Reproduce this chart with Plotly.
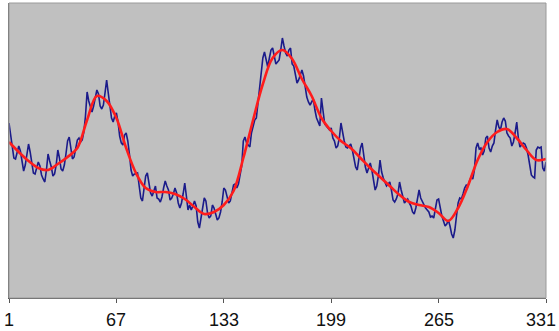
import plotly.graph_objects as go

# Monthly series (index 1..331) and its smoothed trend
month = list(range(1, 332))

raw = [
    175, 163, 152, 140, 139, 147, 152, 147, 136, 127, 133, 143,
    154, 146, 137, 125, 124, 131, 136, 132, 123, 119, 116, 128,
    144, 137, 131, 122, 124, 133, 148, 140, 129, 127, 133, 144,
    157, 161, 148, 139, 141, 150, 158, 160, 156, 158, 166, 182,
    206, 197, 190, 186, 192, 200, 208, 204, 192, 189, 193, 205,
    218, 205, 194, 180, 176, 182, 185, 176, 162, 155, 153, 163,
    165, 157, 144, 128, 122, 124, 124, 125, 112, 100, 97, 110,
    122, 125, 112, 105, 102, 108, 112, 100, 99, 96, 101, 110,
    117, 112, 108, 98, 100, 104, 110, 105, 95, 90, 95, 104,
    115, 102, 88, 93, 88, 92, 97, 92, 76, 70, 80, 89,
    100, 97, 85, 80, 82, 93, 90, 84, 78, 80, 86, 96,
    110, 108, 101, 95, 97, 105, 113, 114, 110, 114, 122, 132,
    157, 161, 155, 153, 151, 165, 172, 178, 180, 195, 208, 226,
    240, 246, 238, 231, 240, 248, 250, 240, 234, 236, 238, 248,
    260, 252, 245, 242, 248, 250, 234, 232, 222, 215, 218, 224,
    228, 222, 212, 201, 196, 193, 196, 199, 188, 180, 176, 172,
    200, 186, 174, 172, 170, 168, 170, 160, 157, 150, 152, 160,
    175, 165, 157, 151, 150, 152, 154, 148, 138, 131, 128, 138,
    150, 155, 140, 131, 125, 131, 135, 128, 116, 108, 112, 122,
    138, 126, 120, 116, 112, 114, 116, 108, 98, 96, 99, 104,
    116, 108, 101, 95, 97, 99, 95, 92, 86, 84, 90, 100,
    108, 100, 96, 93, 90, 88, 86, 81, 82, 80, 88, 98,
    99, 90, 82, 77, 72, 74, 78, 72, 64, 60, 68, 82,
    95, 100, 99, 104, 110, 113, 112, 117, 121, 119, 128, 150,
    155, 149, 150, 143, 147, 160, 162, 150, 146, 152, 155, 168,
    178, 171, 168, 176, 180, 177, 165, 162, 160, 152, 156, 165,
    176, 160, 151, 153, 155, 154, 150, 143, 130, 123, 121, 120,
    148, 151, 150, 151, 130, 127, 136,
]

# Trend read every sixth month
trend_month = list(range(1, 332, 6))
trend = [
    156, 146, 137, 130, 128, 134, 141, 150, 178, 202, 197, 180, 150, 125,
    110, 106, 106, 104, 99, 91, 84, 86, 93, 107, 140, 178, 214, 240,
    248, 239, 219, 202, 180, 167, 157, 150, 140, 130, 121, 112, 103, 96,
    93, 91, 85, 77, 90, 112, 138, 156, 166, 169, 160, 148, 138, 139,
]

tick_vals = [1, 67, 133, 199, 265, 331]

fig = go.Figure()
fig.add_trace(go.Scatter(
    x=month, y=raw, mode="lines",
    line=dict(color="#1b1b8a", width=1.6),
    hoverinfo="skip",
))
fig.add_trace(go.Scatter(
    x=trend_month, y=trend, mode="lines",
    line=dict(color="#ff1c1c", width=2.6, shape="spline", smoothing=1.0),
    hoverinfo="skip",
))

# Category labels under the axis
for v in tick_vals:
    last = v == tick_vals[-1]
    fig.add_annotation(
        x=v, y=0, xref="x", yref="paper",
        text=str(v), showarrow=False,
        xanchor="right" if last else "center",
        yanchor="top",
        xshift=12 if last else 0,
        yshift=-10,
        font=dict(family="Liberation Sans, Arial", size=18, color="#111111"),
    )

# Plot-area frame
fig.add_shape(
    type="rect", xref="paper", yref="paper", x0=0, y0=0, x1=1, y1=1,
    line=dict(color="#9a9a9a", width=1), layer="above",
)

fig.update_layout(
    width=559, height=331,
    margin=dict(l=9, r=13, t=3, b=33),
    paper_bgcolor="white",
    plot_bgcolor="#c0c0c0",
    showlegend=False,
)
fig.update_xaxes(
    range=[1, 331], tickvals=tick_vals, showticklabels=False,
    ticks="outside", ticklen=4, tickcolor="#555555", tickwidth=1,
    showline=True, linecolor="#555555", linewidth=1,
    showgrid=False, zeroline=False,
)
fig.update_yaxes(
    range=[0, 295], showticklabels=False, ticks="",
    showline=True, linecolor="#6a6a6a", linewidth=1,
    showgrid=False, zeroline=False,
)

fig.write_html("out.html")
